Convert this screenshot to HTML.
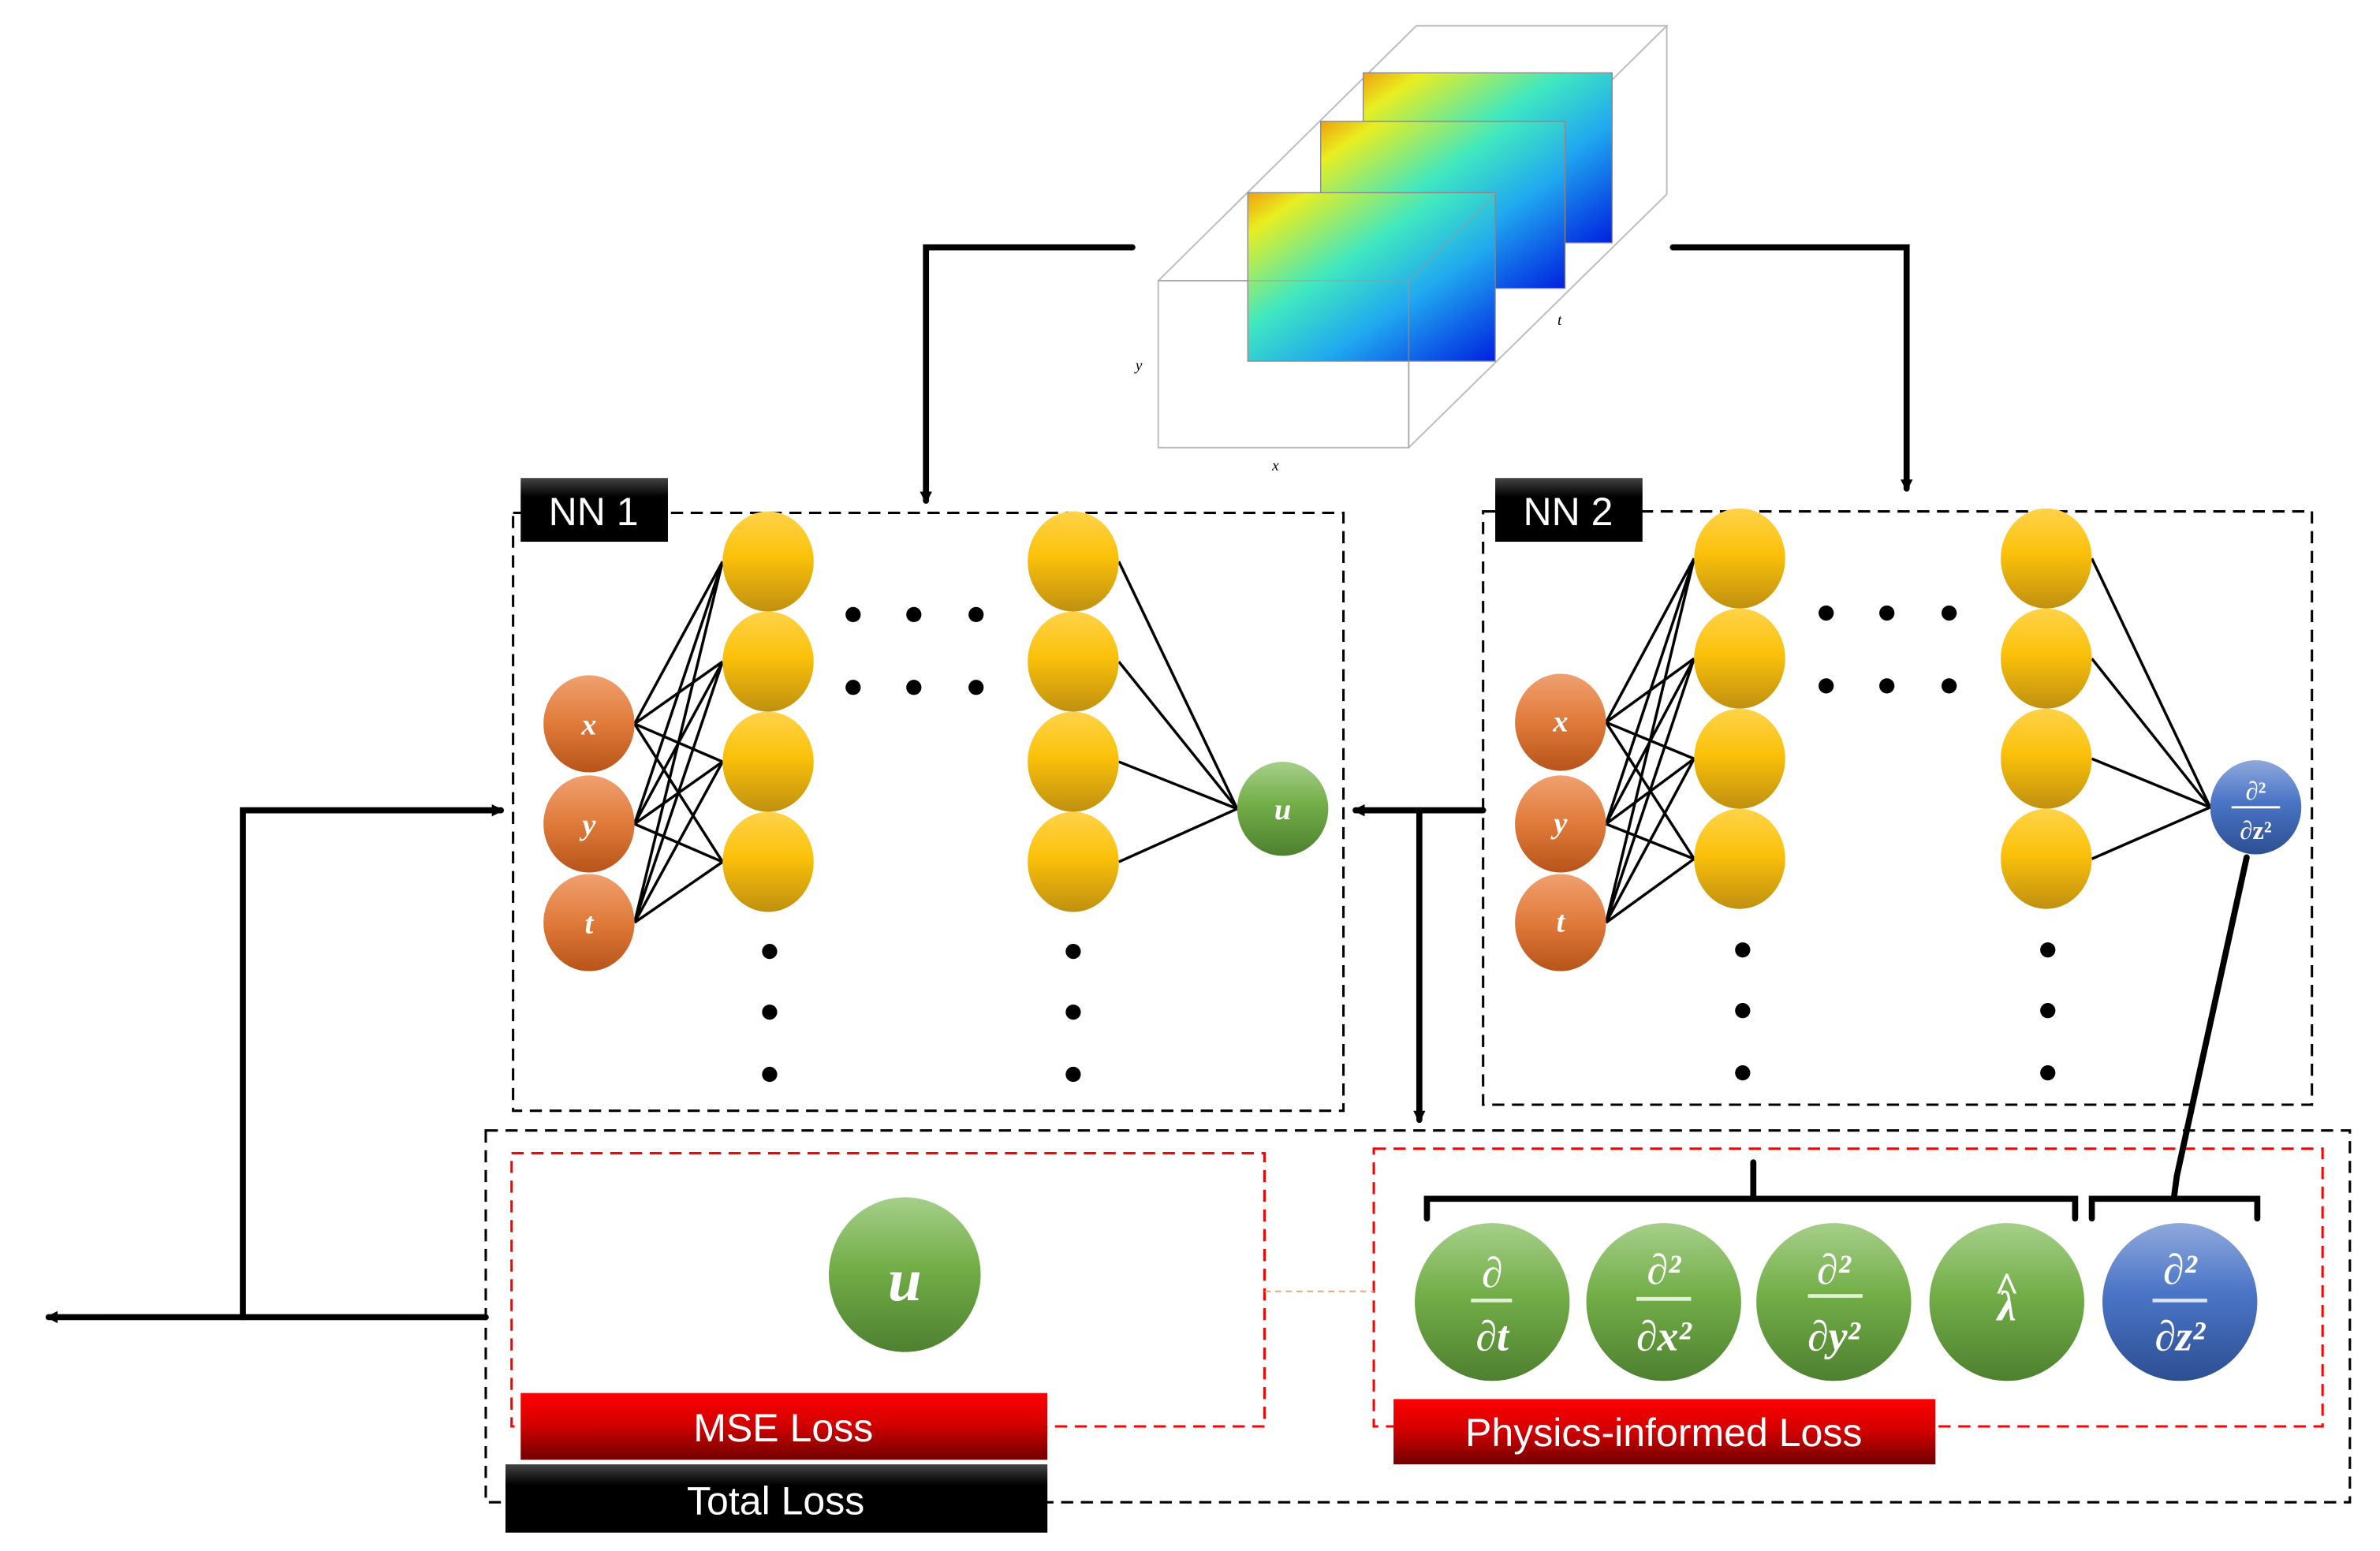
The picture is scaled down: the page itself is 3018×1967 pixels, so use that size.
<!DOCTYPE html>
<html><head><meta charset="utf-8"><style>html,body{margin:0;padding:0;background:#fff}svg{display:block}</style></head>
<body>
<svg width="3018" height="1967" viewBox="0 0 1560 1017" preserveAspectRatio="none" xmlns="http://www.w3.org/2000/svg" font-family="Liberation Serif, serif">
<defs>
<linearGradient id="og" x1="0" y1="0" x2="0" y2="1"><stop offset="0" stop-color="#f0a070"/><stop offset=".5" stop-color="#e07a3a"/><stop offset="1" stop-color="#b8541a"/></linearGradient>
<linearGradient id="yg" x1="0" y1="0" x2="0" y2="1"><stop offset="0" stop-color="#ffd34a"/><stop offset=".45" stop-color="#fbc10a"/><stop offset="1" stop-color="#c09010"/></linearGradient>
<linearGradient id="gg" x1="0" y1="0" x2="0" y2="1"><stop offset="0" stop-color="#a6cf8a"/><stop offset=".45" stop-color="#73ae48"/><stop offset="1" stop-color="#4e8030"/></linearGradient>
<linearGradient id="bg" x1="0" y1="0" x2="0" y2="1"><stop offset="0" stop-color="#8fa8dc"/><stop offset=".45" stop-color="#4a74c6"/><stop offset="1" stop-color="#2d4f92"/></linearGradient>
<linearGradient id="rg" x1="0" y1="0" x2="0" y2="1"><stop offset="0" stop-color="#ff0000"/><stop offset=".5" stop-color="#d00000"/><stop offset="1" stop-color="#700000"/></linearGradient>
<linearGradient id="kg" x1="0" y1="0" x2="0" y2="1"><stop offset="0" stop-color="#444"/><stop offset=".3" stop-color="#000"/><stop offset="1" stop-color="#000"/></linearGradient>
<linearGradient id="heat" x1="0" y1="0" x2="1" y2="1"><stop offset="0" stop-color="#f0a010"/><stop offset=".12" stop-color="#e8ee20"/><stop offset=".4" stop-color="#40e8c0"/><stop offset=".65" stop-color="#20a8f0"/><stop offset="1" stop-color="#0020e0"/></linearGradient>
<marker id="ah" markerWidth="8" markerHeight="8" refX="6" refY="4" orient="auto" markerUnits="userSpaceOnUse"><path d="M0,0 L8,4 L0,8 z" fill="#000"/></marker>
</defs>
<g transform="scale(0.995)">
<!-- cube -->
<g fill="none" stroke="#bbb" stroke-width="1">
<rect x="763" y="185" width="165" height="110"/>
<path d="M763,185 L933,17 L1098,17 L928,185 M1098,17 L1098,128 L928,295"/>
</g>
<rect x="898" y="48" width="164" height="112" fill="url(#heat)" stroke="#888" stroke-width=".7"/>
<rect x="870" y="80" width="161" height="110" fill="url(#heat)" stroke="#888" stroke-width=".7"/>
<rect x="822" y="127" width="163" height="111" fill="url(#heat)" stroke="#888" stroke-width=".7"/>
<path d="M763,185 L928,185 L928,295 M928,185 L985,128" fill="none" stroke="#999" stroke-width=".8" opacity=".6"/>
<text x="748" y="244" font-size="10" font-style="italic">y</text>
<text x="838" y="310" font-size="10" font-style="italic">x</text>
<text x="1026" y="214" font-size="10" font-style="italic">t</text>

<g stroke="#000" stroke-width="4" fill="none" stroke-linecap="round">
<path d="M746,163 L610,163 L610,330" marker-end="url(#ah)"/>
<path d="M1102,163 L1256,163 L1256,322" marker-end="url(#ah)"/>
</g>

<g fill="none" stroke="#000" stroke-width="1.6" stroke-dasharray="8,5">
<rect x="338" y="338" width="547" height="394"/>
<rect x="977" y="337" width="546" height="391"/>
<rect x="320" y="745" width="1228" height="245"/>
</g>
<g fill="none" stroke="#f00" stroke-width="1.6" stroke-dasharray="8,5">
<rect x="337" y="760" width="496" height="180"/>
<rect x="905" y="757" width="625" height="183"/>
</g>
<rect x="343" y="315" width="97" height="42" fill="url(#kg)"/>
<text x="391" y="346" font-size="26" fill="#fff" text-anchor="middle" font-family="Liberation Sans, sans-serif">NN 1</text>
<rect x="985" y="315" width="97" height="42" fill="url(#kg)"/>
<text x="1033" y="346" font-size="26" fill="#fff" text-anchor="middle" font-family="Liberation Sans, sans-serif">NN 2</text>

<g stroke="#000" stroke-width="1.8">
<path d="M418,477L476,370M418,477L476,436M418,477L476,502M418,477L476,568M418,543L476,370M418,543L476,436M418,543L476,502M418,543L476,568M418,608L476,370M418,608L476,436M418,608L476,502M418,608L476,568"/>
<path d="M737,370L815,533M737,436L815,533M737,502L815,533M737,568L815,533"/>
<path d="M1058,476L1116,368M1058,476L1116,434M1058,476L1116,500M1058,476L1116,566M1058,543L1116,368M1058,543L1116,434M1058,543L1116,500M1058,543L1116,566M1058,608L1116,368M1058,608L1116,434M1058,608L1116,500M1058,608L1116,566"/>
<path d="M1378,368L1456,532M1378,434L1456,532M1378,500L1456,532M1378,566L1456,532"/>
</g>

<g fill="url(#og)"><ellipse cx="388" cy="477" rx="30" ry="32"/><ellipse cx="388" cy="543" rx="30" ry="32"/><ellipse cx="388" cy="608" rx="30" ry="32"/>
<ellipse cx="1028" cy="476" rx="30" ry="32"/><ellipse cx="1028" cy="543" rx="30" ry="32"/><ellipse cx="1028" cy="608" rx="30" ry="32"/></g>
<g fill="url(#yg)">
<ellipse cx="506" cy="370" rx="30" ry="33"/><ellipse cx="506" cy="436" rx="30" ry="33"/><ellipse cx="506" cy="502" rx="30" ry="33"/><ellipse cx="506" cy="568" rx="30" ry="33"/>
<ellipse cx="707" cy="370" rx="30" ry="33"/><ellipse cx="707" cy="436" rx="30" ry="33"/><ellipse cx="707" cy="502" rx="30" ry="33"/><ellipse cx="707" cy="568" rx="30" ry="33"/>
<ellipse cx="1146" cy="368" rx="30" ry="33"/><ellipse cx="1146" cy="434" rx="30" ry="33"/><ellipse cx="1146" cy="500" rx="30" ry="33"/><ellipse cx="1146" cy="566" rx="30" ry="33"/>
<ellipse cx="1348" cy="368" rx="30" ry="33"/><ellipse cx="1348" cy="434" rx="30" ry="33"/><ellipse cx="1348" cy="500" rx="30" ry="33"/><ellipse cx="1348" cy="566" rx="30" ry="33"/>
</g>
<ellipse cx="845" cy="533" rx="30" ry="31" fill="url(#gg)"/>
<ellipse cx="1486" cy="532" rx="30" ry="31" fill="url(#bg)"/>
<g fill="#fff" font-style="italic" font-weight="bold" text-anchor="middle" font-size="20">
<text x="388" y="484">x</text><text x="388" y="550">y</text><text x="388" y="615">t</text>
<text x="1028" y="482">x</text><text x="1028" y="549">y</text><text x="1028" y="614">t</text>
<text x="845" y="540">u</text>
</g>
<g fill="#fff" text-anchor="middle" font-size="17" font-weight="bold">
<text x="1486" y="527">∂²</text><line x1="1470" y1="532" x2="1502" y2="532" stroke="#fff" stroke-width="1.5"/><text x="1486" y="553">∂z²</text>
</g>
<g fill="#000">
<circle cx="562" cy="405" r="5"/><circle cx="602" cy="405" r="5"/><circle cx="643" cy="405" r="5"/>
<circle cx="562" cy="453" r="5"/><circle cx="602" cy="453" r="5"/><circle cx="643" cy="453" r="5"/>
<circle cx="507" cy="627" r="5"/><circle cx="507" cy="667" r="5"/><circle cx="507" cy="708" r="5"/>
<circle cx="707" cy="627" r="5"/><circle cx="707" cy="667" r="5"/><circle cx="707" cy="708" r="5"/>
<circle cx="1203" cy="404" r="5"/><circle cx="1243" cy="404" r="5"/><circle cx="1284" cy="404" r="5"/>
<circle cx="1203" cy="452" r="5"/><circle cx="1243" cy="452" r="5"/><circle cx="1284" cy="452" r="5"/>
<circle cx="1148" cy="626" r="5"/><circle cx="1148" cy="666" r="5"/><circle cx="1148" cy="707" r="5"/>
<circle cx="1349" cy="626" r="5"/><circle cx="1349" cy="666" r="5"/><circle cx="1349" cy="707" r="5"/>
</g>

<g stroke="#000" stroke-width="4" fill="none" stroke-linecap="round">
<path d="M977,534 L893,534" marker-end="url(#ah)"/>
<path d="M935,534 L935,738" marker-end="url(#ah)"/>
<path d="M320,868 L32,868" marker-end="url(#ah)"/>
<path d="M160,868 L160,534 L330,534" marker-end="url(#ah)"/>
<path d="M1480,565 L1434,775"/>
<path d="M940,803 L940,790 L1367,790 L1367,803 M1155,790 L1155,766"/>
<path d="M1378,803 L1378,790 L1487,790 L1487,803 M1432,790 L1434,775"/>
</g>
<line x1="833" y1="851" x2="905" y2="851" stroke="#f0a070" stroke-width="1" stroke-dasharray="4,3"/>

<ellipse cx="596" cy="840" rx="50" ry="51" fill="url(#gg)"/>
<text x="596" y="857" fill="#fff" font-size="40" font-style="italic" font-weight="bold" text-anchor="middle">u</text>
<g fill="url(#gg)">
<ellipse cx="983" cy="858" rx="51" ry="52"/><ellipse cx="1096" cy="858" rx="51" ry="52"/><ellipse cx="1208" cy="858" rx="51" ry="52"/><ellipse cx="1322" cy="858" rx="51" ry="52"/></g>
<ellipse cx="1436" cy="858" rx="51" ry="52" fill="url(#bg)"/>
<g fill="#fff" text-anchor="middle" font-size="28" font-weight="bold" font-style="italic">
<text x="983" y="848">∂</text><text x="983" y="890">∂t</text>
<text x="1096" y="846">∂²</text><text x="1096" y="890">∂x²</text>
<text x="1208" y="846">∂²</text><text x="1208" y="890">∂y²</text>
<text x="1322" y="870">λ</text><text x="1322" y="858" font-style="normal">^</text>
<text x="1436" y="846">∂²</text><text x="1436" y="890">∂z²</text>
</g>
<g stroke="#fff" stroke-width="2.5" opacity=".8">
<line x1="969" y1="857" x2="996" y2="857"/><line x1="1078" y1="856" x2="1114" y2="856"/><line x1="1191" y1="854" x2="1227" y2="854"/><line x1="1418" y1="857" x2="1454" y2="857"/>
</g>

<rect x="343" y="918" width="347" height="44" fill="url(#rg)"/>
<text x="516" y="950" fill="#fff" font-size="26" text-anchor="middle" font-family="Liberation Sans, sans-serif">MSE Loss</text>
<rect x="333" y="965" width="357" height="45" fill="url(#kg)"/>
<text x="511" y="998" fill="#fff" font-size="26" text-anchor="middle" font-family="Liberation Sans, sans-serif">Total Loss</text>
<rect x="918" y="922" width="357" height="43" fill="url(#rg)"/>
<text x="1096" y="953" fill="#fff" font-size="26" text-anchor="middle" font-family="Liberation Sans, sans-serif">Physics-informed Loss</text>
</g>
</svg>
</body></html>
